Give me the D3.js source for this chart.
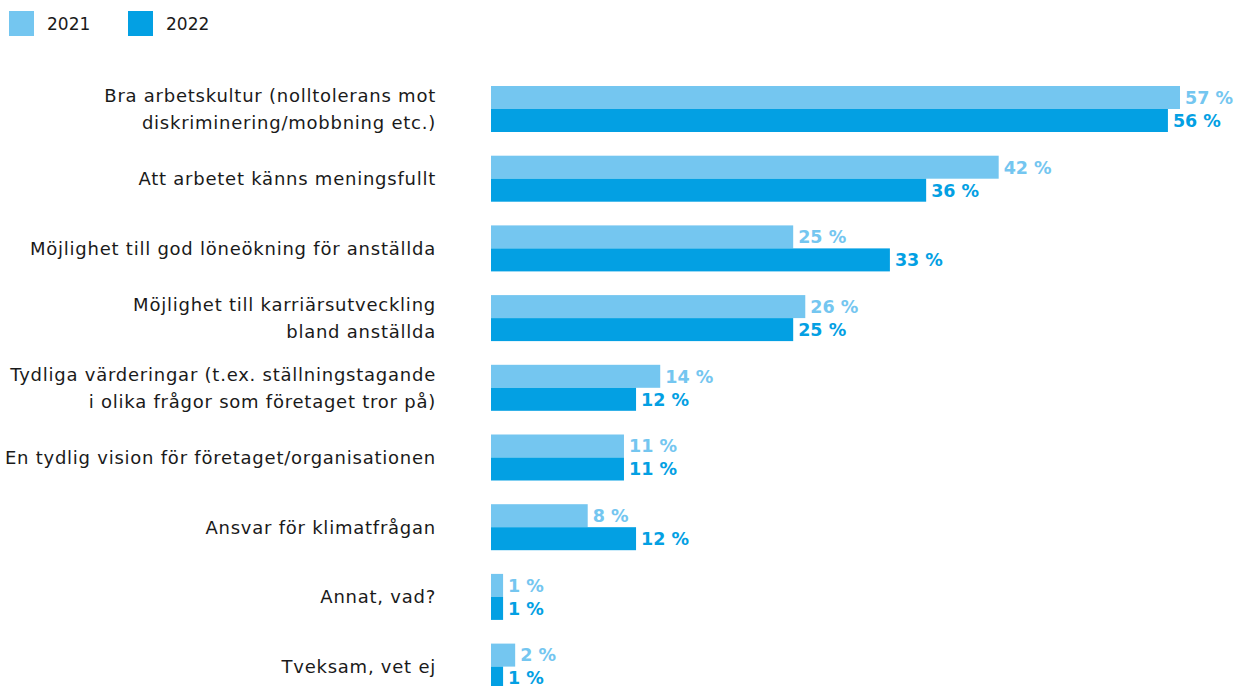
<!DOCTYPE html>
<html><head><meta charset="utf-8">
<script src="https://cdn.jsdelivr.net/npm/d3@7"></script>
<style>body{margin:0;background:#fff;} svg{display:block;}</style>
</head><body>
<svg id="c" width="1235" height="686"></svg>
<script>
const categories = [
  ["Bra arbetskultur (nolltolerans mot","diskriminering/mobbning etc.)"],
  ["Att arbetet känns meningsfullt"],
  ["Möjlighet till god löneökning för anställda"],
  ["Möjlighet till karriärsutveckling","bland anställda"],
  ["Tydliga värderingar (t.ex. ställningstagande","i olika frågor som företaget tror på)"],
  ["En tydlig vision för företaget/organisationen"],
  ["Ansvar för klimatfrågan"],
  ["Annat, vad?"],
  ["Tveksam, vet ej"]
];
const years = ["2021","2022"];
const values2021 = [57,42,25,26,14,11,8,1,2];
const values2022 = [56,36,33,25,12,11,12,1,1];
const colors = ["#74c6f0","#03a0e3"];
const labelColors = ["#74c6f0","#03a0e3"];

const svg = d3.select("#c");
const font = "'DejaVu Sans', sans-serif";
const x = d3.scaleLinear().domain([0,57]).range([491,1180]);
const y0 = d3.scaleBand().domain(d3.range(categories.length)).range([86, 86+69.7*9]).paddingInner(0).paddingOuter(0);
const barH = 23;

const series = [values2021, values2022];
const g = svg.append("g");
categories.forEach((cat,i)=>{
  const top = y0(i);
  series.forEach((vals,s)=>{
    g.append("rect").attr("x",x(0)).attr("y",top+s*barH).attr("width",x(vals[i])-x(0)).attr("height",barH).attr("fill",colors[s]);
    g.append("text").attr("x",x(vals[i])+5).attr("y",top+s*barH+barH/2).attr("dy","0.36em")
      .attr("font-family",font).attr("font-weight",700).attr("font-size",17.5).attr("fill",labelColors[s])
      .text(vals[i]+" %");
  });
  const cy = top+barH;
  const n = cat.length;
  cat.forEach((line,k)=>{
    g.append("text").attr("x",436).attr("y",cy+(k-(n-1)/2)*27).attr("dy","0.36em")
      .attr("text-anchor","end").attr("font-family",font).attr("font-size",18)
      .attr("letter-spacing","0.76px").attr("fill","#1a1a1a").text(line);
  });
});

const lg = svg.append("g");
years.forEach((yr,i)=>{
  const lx = 9 + i*119;
  lg.append("rect").attr("x",lx).attr("y",11).attr("width",25).attr("height",25).attr("fill",colors[i]);
  lg.append("text").attr("x",lx+38).attr("y",24).attr("dy","0.36em").attr("font-family",font).attr("font-size",17).attr("fill","#1a1a1a").text(yr);
});
</script>
</body></html>
